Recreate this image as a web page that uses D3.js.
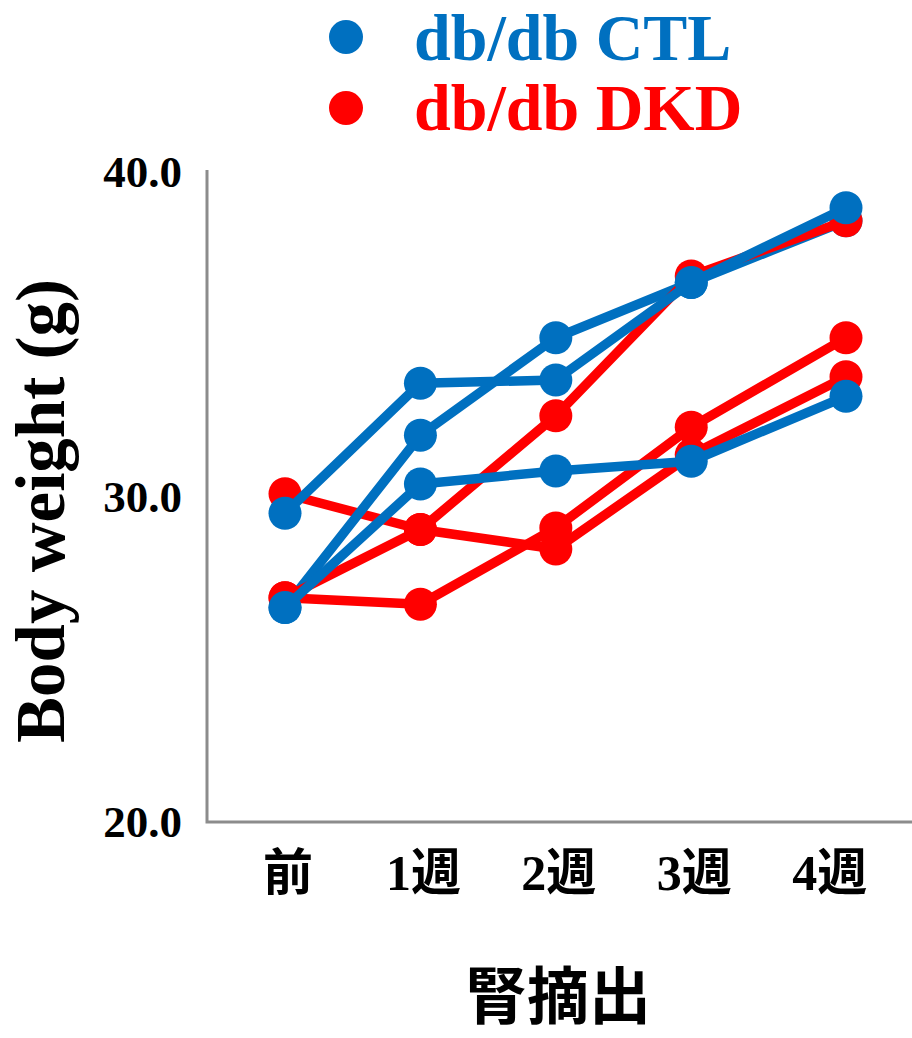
<!DOCTYPE html>
<html>
<head>
<meta charset="utf-8">
<script src="https://cdn.jsdelivr.net/npm/d3@7"></script>
<style>
  html, body { margin: 0; padding: 0; background: #fff; }
  svg { display: block; }
</style>
</head>
<body>
<svg id="chart" width="912" height="1038"></svg>
<script>
// Measurement days for each time point
const days = [0, 7, 14, 21, 29];
// Category labels and where they sit on the day axis
const tickLabels = ["前", "1週", "2週", "3週", "4週"];
const tickDays = [0, 7, 14, 21, 28];
const yTicks = [20, 30, 40];

// Body weight (g) of each mouse
const ctlA = [29.5, 33.5, 33.6, 36.6, 38.9];
const ctlB = [26.6, 31.9, 34.9, 36.6, 38.5];
const ctlC = [26.6, 30.4, 30.8, 31.1, 33.1];
const dkdA = [30.1, 29.0, 28.4, 31.3, 33.7];
const dkdB = [26.9, 29.0, 32.5, 36.8, 38.5];
const dkdC = [26.9, 26.7, 29.05, 32.15, 34.9];

const groups = [
  { name: "db/db CTL", color: "#0070C0" },
  { name: "db/db DKD", color: "#FF0000" }
];

// drawing order (later series sit on top)
const series = [
  { values: dkdA, color: groups[1].color },
  { values: dkdC, color: groups[1].color },
  { values: ctlB, color: groups[0].color },
  { values: dkdB, color: groups[1].color },
  { values: ctlA, color: groups[0].color },
  { values: ctlC, color: groups[0].color }
];

const svg = d3.select("#chart");
const plotLeft = 207, plotRight = 912;

const x = d3.scaleLinear().domain([0, 29]).range([285, 846]);
const y = d3.scaleLinear().domain([20, 40]).range([822, 172]);

const serif = "'Liberation Serif', 'Times New Roman', serif";
const mixed = "'Liberation Serif', 'Noto Sans CJK JP', serif";
const cjk = "'Noto Sans CJK JP', sans-serif";

// Y axis labels
const yAxis = d3.axisLeft(y)
  .tickValues(yTicks)
  .tickFormat(d3.format(".1f"))
  .tickSize(0)
  .tickPadding(25);
const gy = svg.append("g").attr("transform", `translate(${plotLeft},0)`).call(yAxis);
gy.select(".domain").remove();
gy.selectAll("text")
  .attr("font-family", serif)
  .attr("font-weight", "bold")
  .attr("font-size", 45)
  .attr("fill", "#000");

// Axis lines
svg.append("path")
  .attr("d", `M${plotLeft},${y(40) - 2}V${y(20)}H${plotRight}`)
  .attr("fill", "none")
  .attr("stroke", "#8c8c8c")
  .attr("stroke-width", 3);

// X category labels
svg.append("g").selectAll("text")
  .data(tickDays)
  .join("text")
  .attr("x", d => x(d) + 3)
  .attr("y", 872)
  .attr("dy", "0.35em")
  .attr("text-anchor", "middle")
  .attr("font-family", mixed)
  .attr("font-weight", "bold")
  .attr("font-size", 50)
  .text((d, i) => tickLabels[i]);

// Axis titles
svg.append("text")
  .attr("transform", "translate(64,511) rotate(-90)")
  .attr("text-anchor", "middle")
  .attr("font-family", serif)
  .attr("font-weight", "bold")
  .attr("font-size", 69)
  .text("Body weight (g)");

svg.append("text")
  .attr("x", 558)
  .attr("y", 1019)
  .attr("text-anchor", "middle")
  .attr("font-family", cjk)
  .attr("font-weight", "bold")
  .attr("font-size", 62)
  .text("腎摘出");

// Lines and markers
const line = d3.line().x((d, i) => x(days[i])).y(d => y(d));
series.forEach(s => {
  const g = svg.append("g");
  g.append("path")
    .attr("d", line(s.values))
    .attr("fill", "none")
    .attr("stroke", s.color)
    .attr("stroke-width", 9.5)
    .attr("stroke-linejoin", "round");
  g.selectAll("circle")
    .data(s.values)
    .join("circle")
    .attr("cx", (d, i) => x(days[i]))
    .attr("cy", d => y(d))
    .attr("r", 16.5)
    .attr("fill", s.color);
});

// Legend
const legend = svg.append("g");
groups.forEach((gr, i) => {
  legend.append("circle")
    .attr("cx", 346)
    .attr("cy", 37 + i * 71)
    .attr("r", 17)
    .attr("fill", gr.color);
  legend.append("text")
    .attr("x", 414)
    .attr("y", 60 + i * 70)
    .attr("font-family", serif)
    .attr("font-weight", "bold")
    .attr("font-size", 66)
    .attr("fill", gr.color)
    .text(gr.name);
});
</script>
</body>
</html>
